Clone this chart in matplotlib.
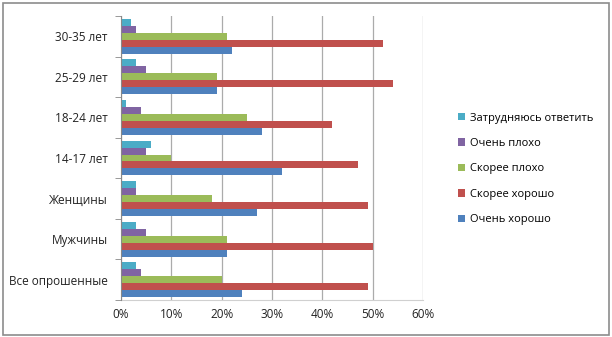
import matplotlib
matplotlib.use("Agg")
import matplotlib.pyplot as plt
import numpy as np
from matplotlib.patches import Rectangle

categories = ["Все опрошенные", "Мужчины", "Женщины", "14-17 лет", "18-24 лет", "25-29 лет", "30-35 лет"]
series_names = ["Очень хорошо", "Скорее хорошо", "Скорее плохо", "Очень плохо", "Затрудняюсь ответить"]
very_good = [24, 21, 27, 32, 28, 19, 22]
rather_good = [49, 50, 49, 47, 42, 54, 52]
rather_bad = [20, 21, 18, 10, 25, 19, 21]
very_bad = [4, 5, 3, 5, 4, 5, 3]
hard_to_say = [3, 3, 3, 6, 1, 3, 2]
x_ticks = [0, 10, 20, 30, 40, 50, 60]
colors = ["#4F81BD", "#C0504D", "#9BBB59", "#8064A2", "#4BACC6"]

plt.rcParams['font.family'] = ['Open Sans', 'DejaVu Sans']

fig = plt.figure(figsize=(6.12, 3.37), dpi=100)
ax = fig.add_axes([121/612, 37/337, 302/612, 284/337])

series = [very_good, rather_good, rather_bad, very_bad, hard_to_say]
n = len(series)
bh = 0.172
y = np.arange(len(categories))
handles = []
for i, (vals, c, name) in enumerate(zip(series, colors, series_names)):
    off = (i - (n - 1) / 2) * bh
    h = ax.barh(y + off, vals, height=bh, color=c, label=name, zorder=3)
    handles.append(h)

ax.set_xlim(0, 60)
ax.set_ylim(-0.5, len(categories) - 0.5)
ax.set_xticks(x_ticks)
ax.set_xticklabels([f"{t}%" for t in x_ticks], fontsize=8.5, color="#222222")
ax.set_yticks(y)
ax.set_yticklabels(categories, fontsize=8.5, color="#222222")
ax.set_yticks(np.arange(len(categories) + 1) - 0.5, minor=True)
ax.tick_params(axis='y', which='major', length=0, pad=9.5)
ax.tick_params(axis='y', which='minor', length=4, color="#888888", direction='out')
ax.tick_params(axis='x', which='major', length=0, pad=6)
ax.grid(axis='x', color="#ABABAB", linewidth=0.9, zorder=0)
for s in ['top', 'right']:
    ax.spines[s].set_visible(False)
ax.spines['left'].set_color("#888888")
ax.spines['bottom'].set_color("#D0D0D0")
ax.spines['left'].set_zorder(4)

leg = fig.legend(handles[::-1], series_names[::-1], loc='center left',
                 bbox_to_anchor=(452/612, 168/337), frameon=False, fontsize=8,
                 handlelength=0.65, handleheight=0.65, handletextpad=0.5,
                 labelspacing=1.3, borderpad=0)

fig.patches.append(Rectangle((3/612, 2/337), 606/612, 332/337, transform=fig.transFigure,
                             fill=False, edgecolor="#8C8C8C", linewidth=1.2))

fig.savefig("out.png", dpi=100)
